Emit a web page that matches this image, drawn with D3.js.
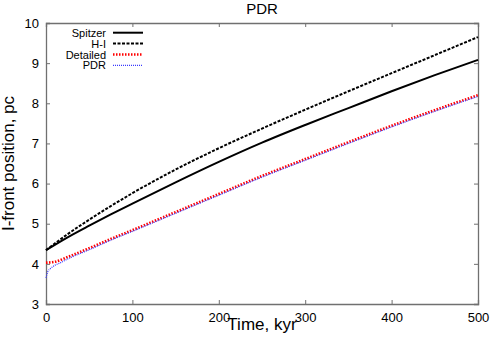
<!DOCTYPE html>
<html><head><meta charset="utf-8">
<script src="https://cdn.jsdelivr.net/npm/d3@7"></script>
<style>
html,body{margin:0;padding:0;background:#fff;}
svg{display:block;font-family:"Liberation Sans",Arial,Helvetica,sans-serif;}
</style></head>
<body>
<svg id="chart" width="491" height="342"></svg>
<script>
const title = "PDR";
const xLabel = "Time, kyr";
const yLabel = "I-front position, pc";
const xTicks = [0,100,200,300,400,500];
const yTicks = [3,4,5,6,7,8,9,10];
const seriesNames = ["Spitzer","H-I","Detailed","PDR"];

const tSpitzer = [0,25,50,75,100,150,200,250,300,350,400,450,500];
const rSpitzer = [4.34,4.66,4.95,5.23,5.50,6.03,6.54,7.02,7.46,7.88,8.30,8.70,9.08];
const tHI = [0,25,50,75,100,150,200,250,300,350,400,450,500];
const rHI = [4.34,4.74,5.10,5.44,5.76,6.35,6.88,7.37,7.84,8.30,8.75,9.20,9.65];
const tDetailed = [0,10,25,50,75,100,150,200,250,300,350,400,450,500];
const rDetailed = [4.03,4.05,4.17,4.39,4.62,4.84,5.29,5.74,6.19,6.61,7.03,7.44,7.83,8.20];
const tPDR = [0,2,5,10,17,25,50,75,100,150,200,250,300,350,400,450,500];
const rPDR = [3.65,3.80,3.88,3.96,4.03,4.12,4.35,4.59,4.81,5.26,5.71,6.16,6.58,7.00,7.41,7.80,8.17];

const svg = d3.select("#chart");
const L=46, R=478, T=23, B=304;
const x = d3.scaleLinear().domain([0,500]).range([L,R]);
const y = d3.scaleLinear().domain([3,10]).range([B,T]);
const frame = "#707070";

const gB = svg.append("g").attr("transform",`translate(0,${B})`)
  .call(d3.axisBottom(x).tickValues(xTicks).tickSize(-4).tickPadding(9).tickFormat(d3.format("d")));
const gT = svg.append("g").attr("transform",`translate(0,${T})`)
  .call(d3.axisTop(x).tickValues(xTicks).tickSize(-4).tickFormat(""));
const gL = svg.append("g").attr("transform",`translate(${L},0)`)
  .call(d3.axisLeft(y).tickValues(yTicks).tickSize(-4).tickPadding(7).tickFormat(d3.format("d")));
const gR = svg.append("g").attr("transform",`translate(${R},0)`)
  .call(d3.axisRight(y).tickValues(yTicks).tickSize(-4).tickFormat(""));
[gB,gT,gL,gR].forEach(g=>{
  g.select(".domain").attr("stroke",frame).attr("stroke-width",1.3);
  g.selectAll(".tick line").attr("stroke",frame).attr("stroke-width",1);
  g.selectAll(".tick text").attr("fill","#000").attr("font-size",13)
   .attr("font-family",'"Liberation Sans",Arial,sans-serif');
});

const line = d3.line().x(d=>x(d[0])).y(d=>y(d[1])).curve(d3.curveMonotoneX);
const styles = [
  {t:tSpitzer, r:rSpitzer, color:"#000", w:2, dash:null},
  {t:tHI, r:rHI, color:"#000", w:2, dash:"3,1.5"},
  {t:tDetailed, r:rDetailed, color:"#ff0000", w:2.6, dash:"1.5,1.5"},
  {t:tPDR, r:rPDR, color:"#3a3aff", w:1.2, dash:"1,1"}
];
const plot = svg.append("g");
styles.forEach(s=>{
  const pts = s.t.map((t,i)=>[t,s.r[i]]);
  plot.append("path").attr("d",line(pts)).attr("fill","none")
    .attr("stroke",s.color).attr("stroke-width",s.w)
    .attr("stroke-dasharray",s.dash);
});

const lg = svg.append("g");
seriesNames.forEach((n,i)=>{
  const cy = 32.7 + i*10.9;
  lg.append("text").attr("x",106).attr("y",cy+4).attr("text-anchor","end")
    .attr("font-size",11).text(n);
  lg.append("line").attr("x1",113).attr("x2",143).attr("y1",cy).attr("y2",cy)
    .attr("stroke",styles[i].color).attr("stroke-width",styles[i].w)
    .attr("stroke-dasharray",styles[i].dash);
});

svg.append("text").attr("x",(L+R)/2).attr("y",13.5).attr("text-anchor","middle")
  .attr("font-size",15).text(title);
svg.append("text").attr("x",(L+R)/2).attr("y",329.5).attr("text-anchor","middle")
  .attr("font-size",17).text(xLabel);
svg.append("text").attr("transform",`translate(14,${(T+B)/2}) rotate(-90)`)
  .attr("text-anchor","middle").attr("font-size",17).text(yLabel);
</script>
</body></html>
